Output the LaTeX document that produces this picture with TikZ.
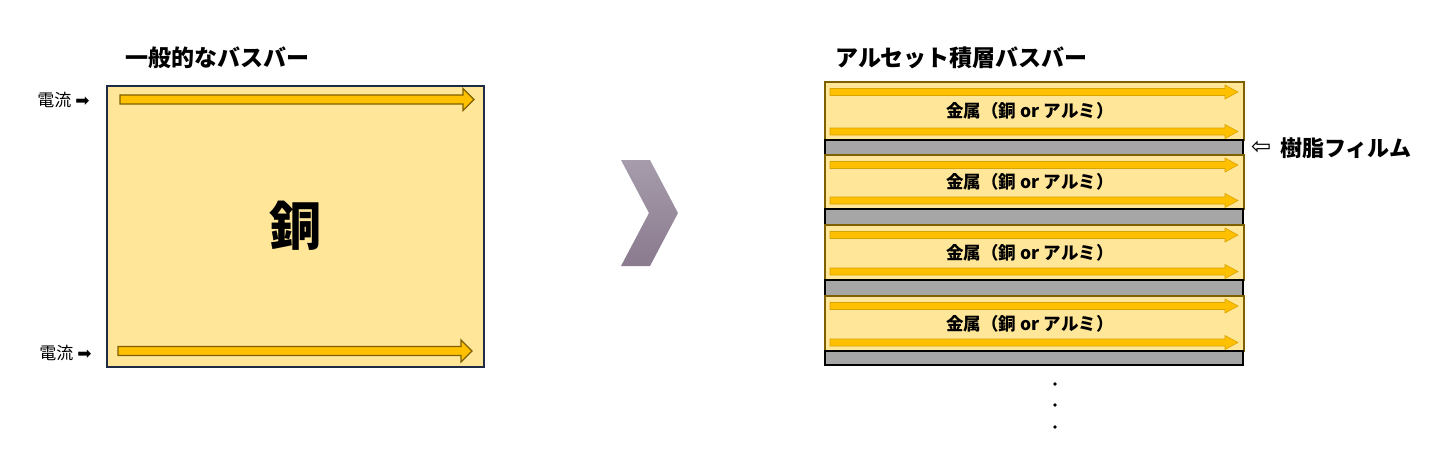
\documentclass[tikz,border=0pt]{standalone}
\usepackage{fontspec}
\newfontfamily\jp{Noto Sans CJK JP}
\newfontfamily\sym{DejaVu Sans}
\usetikzlibrary{calc}

\definecolor{copper}{HTML}{FFE699}
\definecolor{flowfill}{HTML}{FFC000}
\definecolor{flowline}{HTML}{7F6000}
\definecolor{navy}{HTML}{1F2A44}
\definecolor{film}{HTML}{A6A6A6}
\definecolor{chevtop}{HTML}{A69CAB}
\definecolor{chevbot}{HTML}{8A7B8E}

% style, x start, x tip, y, shaft half, head half, head length
\newcommand{\flowarrow}[7]{%
  \draw[#1] (#2,#4-#5) -- (#3-#7,#4-#5) -- (#3-#7,#4-#6) -- (#3,#4)
    -- (#3-#7,#4+#6) -- (#3-#7,#4+#5) -- (#2,#4+#5) -- cycle;}

\tikzset{
  flow/.style={fill=flowfill, draw=flowline, line width=1.2pt},
  thinflow/.style={fill=flowfill, draw=flowfill!85!black, line width=0.6pt},
  metal/.style={fill=copper, draw=flowline, line width=1.8pt},
  resin/.style={fill=film, draw=black, line width=1.8pt},
  title/.style={font=\jp\bfseries\fontsize{23}{27}\selectfont, inner sep=0pt, anchor=west},
  current/.style={font=\jp\fontsize{17}{20}\selectfont, inner sep=0pt},
  layerlabel/.style={font=\jp\bfseries\fontsize{17.5}{20}\selectfont, inner sep=0pt},
}

\begin{document}
\begin{tikzpicture}[x=1pt,y=-1pt]
    \useasboundingbox (0,0) rectangle (1454,451);

    \node[title] (plain title) at (125,58) {一般的なバスバー};
    \draw[fill=copper, draw=navy, line width=1.6pt] (107,86) rectangle (484,367);
    \flowarrow{flow}{120}{474}{99.5}{4.5}{11}{11}
    \flowarrow{flow}{118}{472}{351}{4.5}{11}{11}
    \node[current] (current top) at (63.5,100) {電流 {\sym ➡}};
    \node[current] (current bottom) at (65.5,353) {電流 {\sym ➡}};
    \node[font=\jp\bfseries\fontsize{52}{60}\selectfont, inner sep=0pt] (copper) at (295,226) {銅};

    \shade[top color=chevtop, bottom color=chevbot] (621,160) -- (650,160) -- (678,213)
        -- (650,266) -- (621,266) -- (649,213) -- cycle;

    \node[title] (stack title) at (835,58) {アルセット積層バスバー};
    \foreach \mt/\mb/\fb [count=\i] in {82/140/155, 155/209/225, 225/280/296, 296/351/365} {
        \draw[metal] (825,\mt) rectangle (1244,\mb);
        \draw[resin] (825,\mb) rectangle (1243,\fb);
        \flowarrow{thinflow}{830}{1238}{\mt+10}{3.5}{7}{13}
        \flowarrow{thinflow}{830}{1238}{\mb-8.5}{3.5}{7}{13}
        \node[layerlabel] (metal\i) at (1030,{(\mt+\mb)/2}) {金属（銅 or アルミ）};
    }
    \node[font=\sym\fontsize{24}{28}\selectfont, inner sep=0pt, anchor=west] (resin arrow) at (1251,148) {⇦};
    \node[title, font=\jp\bfseries\fontsize{22}{26}\selectfont] (resin) at (1280,148) {樹脂フィルム};

    \foreach \y in {384,405,427}
        \fill (1055,\y) circle (1.8);
\end{tikzpicture}
\end{document}
